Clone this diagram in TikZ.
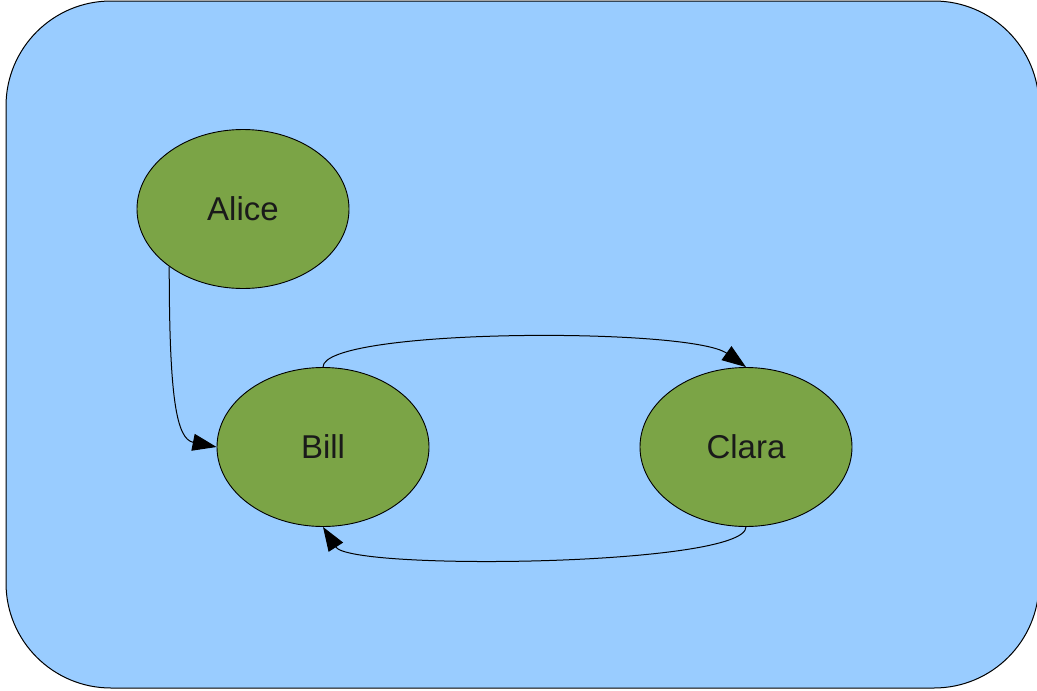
\documentclass[tikz,border=0pt]{standalone}
\usepackage{fontspec}
\setmainfont{Liberation Sans}
\usetikzlibrary{shapes.geometric,arrows.meta}
\definecolor{bgblue}{HTML}{99CCFF}
\definecolor{nodegreen}{RGB}{123,164,70}
\definecolor{txt}{HTML}{1A1A1A}
\begin{document}
\begin{tikzpicture}[x=1pt,y=-1pt,
  person/.style={ellipse,draw=black,line width=0.9pt,fill=nodegreen,
    minimum width=212pt,minimum height=159pt,inner sep=0pt,
    text=txt,font=\fontsize{33pt}{36pt}\selectfont},
  link/.style={draw=black,line width=1pt,-{Triangle[length=24pt,width=17pt]}}]
\useasboundingbox (0,0) rectangle (1037,691);
\clip (0,0) rectangle (1037,691);
\draw[fill=bgblue,line width=1pt,rounded corners=105pt] (6,1) rectangle (1039,688);
\node[person] (alice) at (243,209) {Alice};
\node[person] (bill) at (323,447) {Bill};
\node[person] (clara) at (746,447) {Clara};
\draw[link] (alice.218) .. controls +(0,132) and +(-40,-8) .. (bill.west);
\draw[link] (bill.north) .. controls +(0,-39) and +(-56,-40) .. (clara.north);
\draw[link] (clara.south) .. controls +(0,39) and +(28,44) .. (bill.south);
\end{tikzpicture}
\end{document}
